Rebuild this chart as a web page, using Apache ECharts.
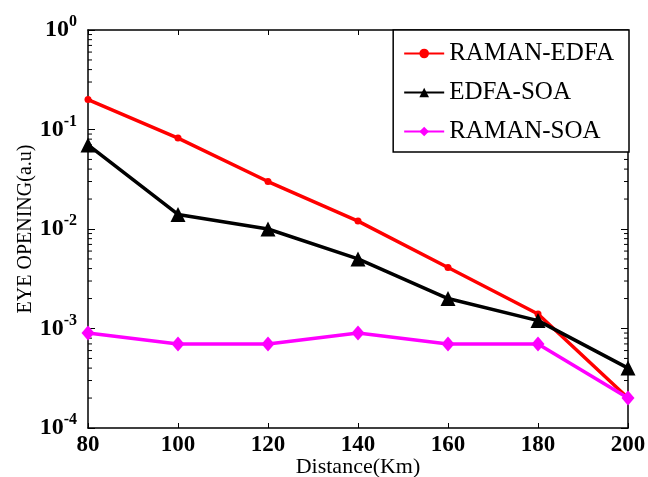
<!DOCTYPE html>
<html>
<head>
<meta charset="utf-8">
<script src="https://cdn.jsdelivr.net/npm/echarts@6/dist/echarts.min.js"></script>
<style>html,body{margin:0;padding:0;background:#fff;}#c{width:648px;height:477px;}</style>
</head>
<body>
<div id="c"></div>
<script>
var distances = [80, 100, 120, 140, 160, 180, 200];
var ramanEdfa = [0.2, 0.082, 0.03, 0.012, 0.0041, 0.0014, 0.0002];
var edfaSoa   = [0.07, 0.014, 0.01, 0.005, 0.002, 0.0012, 0.0004];
var ramanSoa  = [0.0009, 0.0007, 0.0007, 0.0009, 0.0007, 0.0007, 0.0002];
var seriesNames = ['RAMAN-EDFA', 'EDFA-SOA', 'RAMAN-SOA'];
var xTicks = [80, 100, 120, 140, 160, 180, 200];
var yDecades = [-4, -3, -2, -1, 0];
var minorMantissas = [2, 3, 4, 5, 6, 7, 8, 9];

var FONT = '"Liberation Serif", "Times New Roman", serif';

function pairs(vals) { return distances.map(function (d, i) { return [d, vals[i]]; }); }

var minorData = [];
yDecades.slice(0, -1).forEach(function (e) {
  minorMantissas.forEach(function (m) { minorData.push([80, m * Math.pow(10, e)]); });
});

var chart = echarts.init(document.getElementById('c'), null, {renderer: 'canvas'});

var axisLine = {show: true, lineStyle: {color: '#000', width: 1.5}};
var option = {
  backgroundColor: '#fff',
  animation: false,
  grid: {left: 88, right: 20, top: 30, bottom: 49, containLabel: false, outerBoundsMode: 'none'},
  legend: {
    orient: 'vertical',
    right: 19, top: 30,
    data: seriesNames,
    backgroundColor: '#fff',
    borderColor: '#000',
    borderWidth: 1.5,
    borderRadius: 0,
    padding: [11, 15, 8, 10],
    itemWidth: 40,
    itemHeight: 12,
    itemGap: 14,
    textStyle: {fontFamily: FONT, fontSize: 25, color: '#000'}
  },
  xAxis: [{
    type: 'value', min: 80, max: 200, interval: 20,
    name: 'Distance(Km)', nameLocation: 'middle', nameGap: 28, nameMoveOverlap: false,
    nameTextStyle: {fontFamily: FONT, fontSize: 22, color: '#000'},
    axisLine: axisLine,
    axisTick: {show: true, inside: true, length: 5, lineStyle: {color: '#000'}},
    axisLabel: {fontFamily: FONT, fontSize: 23, fontWeight: 'bold', color: '#000', margin: 6},
    splitLine: {show: false}
  }, {
    type: 'value', min: 80, max: 200, interval: 20, position: 'top',
    axisLine: axisLine,
    axisTick: {show: true, inside: true, length: 5, lineStyle: {color: '#000'}},
    axisLabel: {show: false}, splitLine: {show: false}
  }],
  yAxis: [{
    type: 'log', logBase: 10, min: 1e-4, max: 1,
    name: 'EYE OPENING(a.u)', nameLocation: 'middle', nameGap: 52, nameMoveOverlap: false,
    nameTextStyle: {fontFamily: FONT, fontSize: 20, color: '#000'},
    axisLine: axisLine,
    axisTick: {show: true, inside: true, length: 7, lineStyle: {color: '#000'}},
    axisLabel: {
      margin: 11,
      formatter: function (v) {
        var e = Math.round(Math.log10(v));
        return '{b|10}{s|' + e + '}';
      },
      rich: {
        b: {fontFamily: FONT, fontSize: 24, fontWeight: 'bold', color: '#000'},
        s: {fontFamily: FONT, fontSize: 16, fontWeight: 'bold', color: '#000', padding: [0, 0, 16, 0]}
      }
    },
    splitLine: {show: false}
  }, {
    type: 'log', logBase: 10, min: 1e-4, max: 1, position: 'right',
    axisLine: axisLine,
    axisTick: {show: true, inside: true, length: 7, lineStyle: {color: '#000'}},
    axisLabel: {show: false}, splitLine: {show: false}
  }],
  series: [{
    name: 'minor', type: 'custom', silent: true, clip: false, z: 1,
    data: minorData,
    renderItem: function (params, api) {
      var p = api.coord([80, api.value(1)]);
      var q = api.coord([200, api.value(1)]);
      return {type: 'group', children: [
        {type: 'line', shape: {x1: p[0], y1: p[1], x2: p[0] + 4, y2: p[1]}, style: {stroke: '#000', lineWidth: 1}},
        {type: 'line', shape: {x1: q[0], y1: q[1], x2: q[0] - 4, y2: q[1]}, style: {stroke: '#000', lineWidth: 1}}
      ]};
    }
  }, {
    name: seriesNames[0], type: 'line', data: pairs(ramanEdfa),
    color: '#ff0000', lineStyle: {width: 3.5, color: '#ff0000'},
    symbol: 'circle', symbolSize: 7, itemStyle: {color: '#ff0000'}, z: 3
  }, {
    name: seriesNames[1], type: 'line', data: pairs(edfaSoa),
    color: '#000', lineStyle: {width: 3.5, color: '#000'},
    symbol: 'triangle', symbolSize: 15, itemStyle: {color: '#000'}, z: 4
  }, {
    name: seriesNames[2], type: 'line', data: pairs(ramanSoa),
    color: '#ff00ff', lineStyle: {width: 3.5, color: '#ff00ff'},
    symbol: 'diamond', symbolSize: [13, 15], itemStyle: {color: '#ff00ff'}, z: 5
  }]
};
chart.setOption(option);
</script>
</body>
</html>
